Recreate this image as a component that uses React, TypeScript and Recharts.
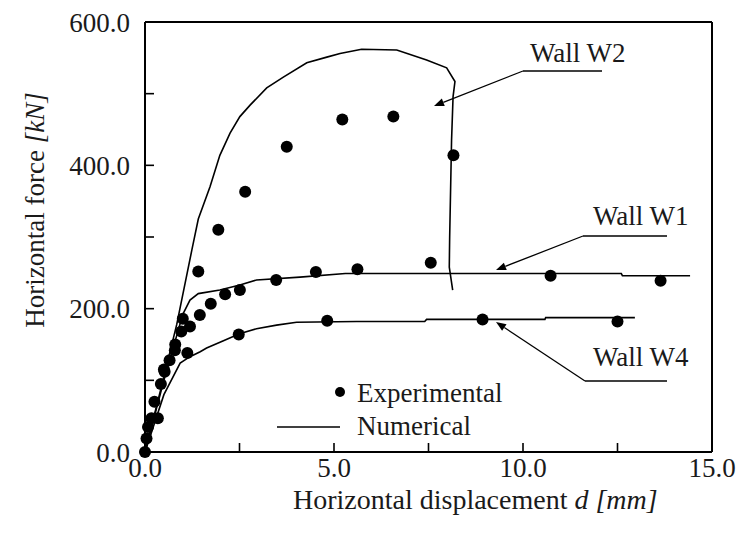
import React from "react"
import {
  ComposedChart,
  Line,
  Scatter,
  XAxis,
  YAxis,
  Legend,
} from "recharts"

// numerical curves (displacement mm, force kN)
const w2NumX = [0, 0.42, 0.84, 1.24, 1.41, 1.72, 1.98, 2.25, 2.51, 2.78, 3.22, 3.66, 4.28, 4.81, 5.16, 5.73, 6.66, 7.45, 7.98, 8.2, 8.15, 8.11, 8.06, 8.05, 8.14]
const w2NumY = [0, 88, 178, 282, 325, 370, 414, 445, 468, 484, 508, 523, 543, 551, 556, 562, 561, 547, 536, 517, 496, 435, 300, 258, 226]

const w1NumX = [0, 0.5, 1.0, 1.19, 1.41, 1.98, 2.51, 2.95, 4.1, 5.3, 8.0, 12.6, 12.63, 14.42]
const w1NumY = [0, 100, 192, 212, 221, 226, 233, 240, 244, 249, 249, 249, 246, 246]

const w4NumX = [0, 0.5, 0.93, 1.19, 1.46, 1.63, 2.06, 2.5, 2.95, 3.48, 4.01, 5.6, 7.4, 7.45, 10.58, 10.6, 12.96]
const w4NumY = [0, 80, 124, 133, 140, 145, 155, 165, 172, 177, 181, 182, 182, 185, 185, 187.5, 187.5]

// experimental points
const w2ExpX = [0, 0.08, 0.25, 0.5, 0.8, 1.0, 1.41, 1.94, 2.65, 3.75, 5.22, 6.57, 8.16]
const w2ExpY = [0, 35, 70, 115, 150, 186, 252, 310, 363, 426, 464, 468, 414]

const w1ExpX = [0.04, 0.17, 0.42, 0.65, 0.96, 1.19, 1.45, 1.74, 2.12, 2.51, 3.47, 4.52, 5.62, 7.56, 10.73, 13.64]
const w1ExpY = [19, 47, 95, 128, 168, 175, 191, 207, 220, 226, 240, 251, 255, 264, 246, 239]

const w4ExpX = [0.34, 0.52, 0.79, 1.12, 2.48, 4.82, 8.93, 12.5]
const w4ExpY = [47, 112, 142, 138, 164, 183, 185, 182]

const xTicks = [0, 2.5, 5, 7.5, 10, 12.5, 15]
const yTicks = [0, 100, 200, 300, 400, 500, 600]
const xLabels = [0, 5, 10, 15]
const yLabels = [0, 200, 400, 600]

const pts = (xs: number[], ys: number[]) => xs.map((x, i) => ({ x, y: ys[i] }))

const FONT = "Liberation Serif"
const INK = "#1a1a1a"

const dot = (p: any) => <circle cx={p.cx} cy={p.cy} r={6} fill="#000" />

const renderLegend = () => (
  <svg width={260} height={70}>
    <circle cx={70} cy={17} r={5} fill="#000" />
    <text x={87} y={27} fontFamily={FONT} fontSize={27} fill={INK}>Experimental</text>
    <line x1={7} y1={52} x2={70} y2={52} stroke="#000" strokeWidth={1.6} />
    <text x={87} y={60} fontFamily={FONT} fontSize={27} fill={INK}>Numerical</text>
  </svg>
)

const Arrow = ({ x1, y1, x2, y2, ux }: { x1: number; y1: number; x2: number; y2: number; ux: number }) => {
  const a = Math.atan2(y2 - y1, x2 - x1)
  const L = 10
  const W = 4
  const bx = x2 - L * Math.cos(a)
  const by = y2 - L * Math.sin(a)
  const px = -Math.sin(a) * W
  const py = Math.cos(a) * W
  return (
    <g>
      <line x1={ux} y1={y1} x2={x1} y2={y1} stroke="#000" strokeWidth={1.5} />
      <line x1={x1} y1={y1} x2={bx} y2={by} stroke="#000" strokeWidth={1.3} />
      <polygon points={`${x2},${y2} ${bx + px},${by + py} ${bx - px},${by - py}`} fill="#000" />
    </g>
  )
}

export default function App() {
  const tickStyle = { fontFamily: FONT, fontSize: 27, fill: INK }
  return (
    <div style={{ position: "absolute", left: 0, top: 0, width: 741, height: 534, background: "#fff" }}>
      <ComposedChart width={741} height={534} margin={{ top: 21, right: 28, bottom: 22, left: 0 }}>
        <XAxis
          dataKey="x"
          type="number"
          domain={[0, 15]}
          ticks={xTicks}
          interval={0}
          tickFormatter={(v) => (xLabels.includes(v) ? v.toFixed(1) : "")}
          tick={tickStyle}
          height={60}
          tickSize={-9}
          tickMargin={15}
          stroke="#000"
          axisLine={{ stroke: "#000", strokeWidth: 2 }}
          tickLine={{ stroke: "#000", strokeWidth: 1.6 }}
        />
        <XAxis
          xAxisId="top"
          orientation="top"
          type="number"
          domain={[0, 15]}
          ticks={xTicks}
          interval={0}
          tick={false}
          height={1}
          tickSize={-9}
          axisLine={{ stroke: "#000", strokeWidth: 2 }}
          tickLine={{ stroke: "#000", strokeWidth: 1.6 }}
        />
        <YAxis
          type="number"
          domain={[0, 600]}
          ticks={yTicks}
          interval={0}
          tickFormatter={(v) => (yLabels.includes(v) ? v.toFixed(1) : "")}
          tick={tickStyle}
          width={145}
          tickSize={-9}
          tickMargin={24}
          axisLine={{ stroke: "#000", strokeWidth: 2 }}
          tickLine={{ stroke: "#000", strokeWidth: 1.6 }}
        />
        <YAxis
          yAxisId="right"
          orientation="right"
          type="number"
          domain={[0, 600]}
          ticks={yTicks}
          interval={0}
          tick={false}
          width={1}
          tickSize={-8}
          axisLine={{ stroke: "#000", strokeWidth: 2 }}
          tickLine={{ stroke: "#000", strokeWidth: 1.6 }}
        />
        <Line data={pts(w2NumX, w2NumY)} dataKey="y" type="linear" stroke="#000" strokeWidth={1.6} dot={false} isAnimationActive={false} legendType="none" />
        <Line data={pts(w1NumX, w1NumY)} dataKey="y" type="linear" stroke="#000" strokeWidth={1.6} dot={false} isAnimationActive={false} legendType="none" />
        <Line data={pts(w4NumX, w4NumY)} dataKey="y" type="linear" stroke="#000" strokeWidth={1.6} dot={false} isAnimationActive={false} legendType="none" />
        <Scatter data={pts(w2ExpX, w2ExpY)} dataKey="y" shape={dot} isAnimationActive={false} />
        <Scatter data={pts(w1ExpX, w1ExpY)} dataKey="y" shape={dot} isAnimationActive={false} />
        <Scatter data={pts(w4ExpX, w4ExpY)} dataKey="y" shape={dot} isAnimationActive={false} />
        <Legend
          layout="horizontal"
          align="center"
          verticalAlign="middle"
          content={renderLegend}
          wrapperStyle={{ position: "absolute", left: 270, top: 375, width: 260, height: 70 }}
        />
      </ComposedChart>
      <svg width={741} height={534} style={{ position: "absolute", left: 0, top: 0, pointerEvents: "none" }}>
        <text x={293} y={509} fontFamily={FONT} fontSize={28} fill={INK}>
          Horizontal displacement <tspan fontStyle="italic">d [mm]</tspan>
        </text>
        <text x={44} y={210} transform="rotate(-90 44 210)" textAnchor="middle" fontFamily={FONT} fontSize={27} fill={INK}>
          Horizontal force <tspan fontStyle="italic">[kN]</tspan>
        </text>
        <text x={530} y={62} fontFamily={FONT} fontSize={27} fill={INK}>Wall W2</text>
        <Arrow ux={602} x1={523} y1={71} x2={434} y2={106} />
        <text x={593} y={225} fontFamily={FONT} fontSize={27} fill={INK}>Wall W1</text>
        <Arrow ux={667} x1={583} y1={236} x2={496} y2={270} />
        <text x={593} y={366} fontFamily={FONT} fontSize={27} fill={INK}>Wall W4</text>
        <Arrow ux={667} x1={585} y1={381} x2={496} y2={322} />
      </svg>
    </div>
  )
}
